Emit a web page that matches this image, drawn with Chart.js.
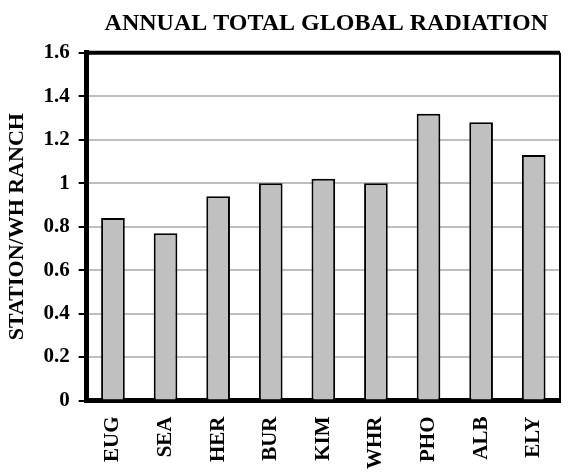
<!DOCTYPE html>
<html>
<head>
<meta charset="utf-8">
<script src="https://cdn.jsdelivr.net/npm/chart.js@4"></script>
<style>
  html, body { margin: 0; padding: 0; background: #fff; overflow: hidden; }
  #wrap { width: 576px; height: 474px; }
</style>
</head>
<body>
<div id="wrap"><canvas id="radiation-chart"></canvas></div>
<script>
const stations = ['EUG', 'SEA', 'HER', 'BUR', 'KIM', 'WHR', 'PHO', 'ALB', 'ELY'];
const ratios = [0.84, 0.77, 0.94, 1.00, 1.02, 1.00, 1.32, 1.28, 1.13];

const serif = "'Liberation Serif', 'Times New Roman', serif";

// thick frame on top, thin on right
const frame = {
  id: 'frame',
  afterDraw(chart) {
    const { ctx, chartArea: a } = chart;
    ctx.save();
    ctx.strokeStyle = '#000';
    ctx.lineWidth = 4;
    ctx.beginPath();
    ctx.moveTo(a.left, a.top);
    ctx.lineTo(a.right, a.top);
    ctx.stroke();
    ctx.lineWidth = 2;
    ctx.beginPath();
    ctx.moveTo(a.right, a.top);
    ctx.lineTo(a.right, a.bottom);
    ctx.stroke();
    ctx.restore();
  },
};

const radiationChart = new Chart('radiation-chart', {
  type: 'bar',
  data: {
    labels: stations,
    datasets: [{
      data: ratios,
      backgroundColor: '#C0C0C0',
      borderColor: '#000',
      borderWidth: 2,
      categoryPercentage: 1,
      barPercentage: 0.45,
    }],
  },
  options: {
    responsive: true,
    maintainAspectRatio: false,
    animation: false,
    layout: { padding: { left: 4, right: 16, top: 0, bottom: -11 } },
    plugins: {
      legend: { display: false },
      tooltip: { enabled: false },
      title: {
        display: true,
        text: 'ANNUAL TOTAL GLOBAL RADIATION\u00A0\u00A0',
        color: '#000',
        font: { family: serif, size: 24, weight: 'bold' },
        padding: { top: 9, bottom: 15 },
        align: 'end',
      },
    },
    scales: {
      x: {
        grid: { display: false, drawTicks: false },
        border: { color: '#000', width: 5 },
        ticks: {
          color: '#000',
          font: { family: serif, size: 21, weight: 'bold' },
          minRotation: 90,
          maxRotation: 90,
          padding: 16,
        },
      },
      y: {
        min: 0,
        max: 1.6,
        grid: {
          color: '#BEBEBE',
          lineWidth: 2,
          tickColor: '#000',
          tickLength: 8,
        },
        border: { color: '#000', width: 5 },
        ticks: {
          stepSize: 0.2,
          color: '#000',
          font: { family: serif, size: 21, weight: 'bold' },
          padding: 9,
          callback: (v) => Number(v.toFixed(1)).toString(),
        },
        title: {
          display: true,
          text: 'STATION/WH RANCH',
          color: '#000',
          font: { family: serif, size: 22, weight: 'bold' },
          padding: { top: 0, bottom: 4 },
        },
      },
    },
  },
  plugins: [frame],
});
</script>
</body>
</html>
